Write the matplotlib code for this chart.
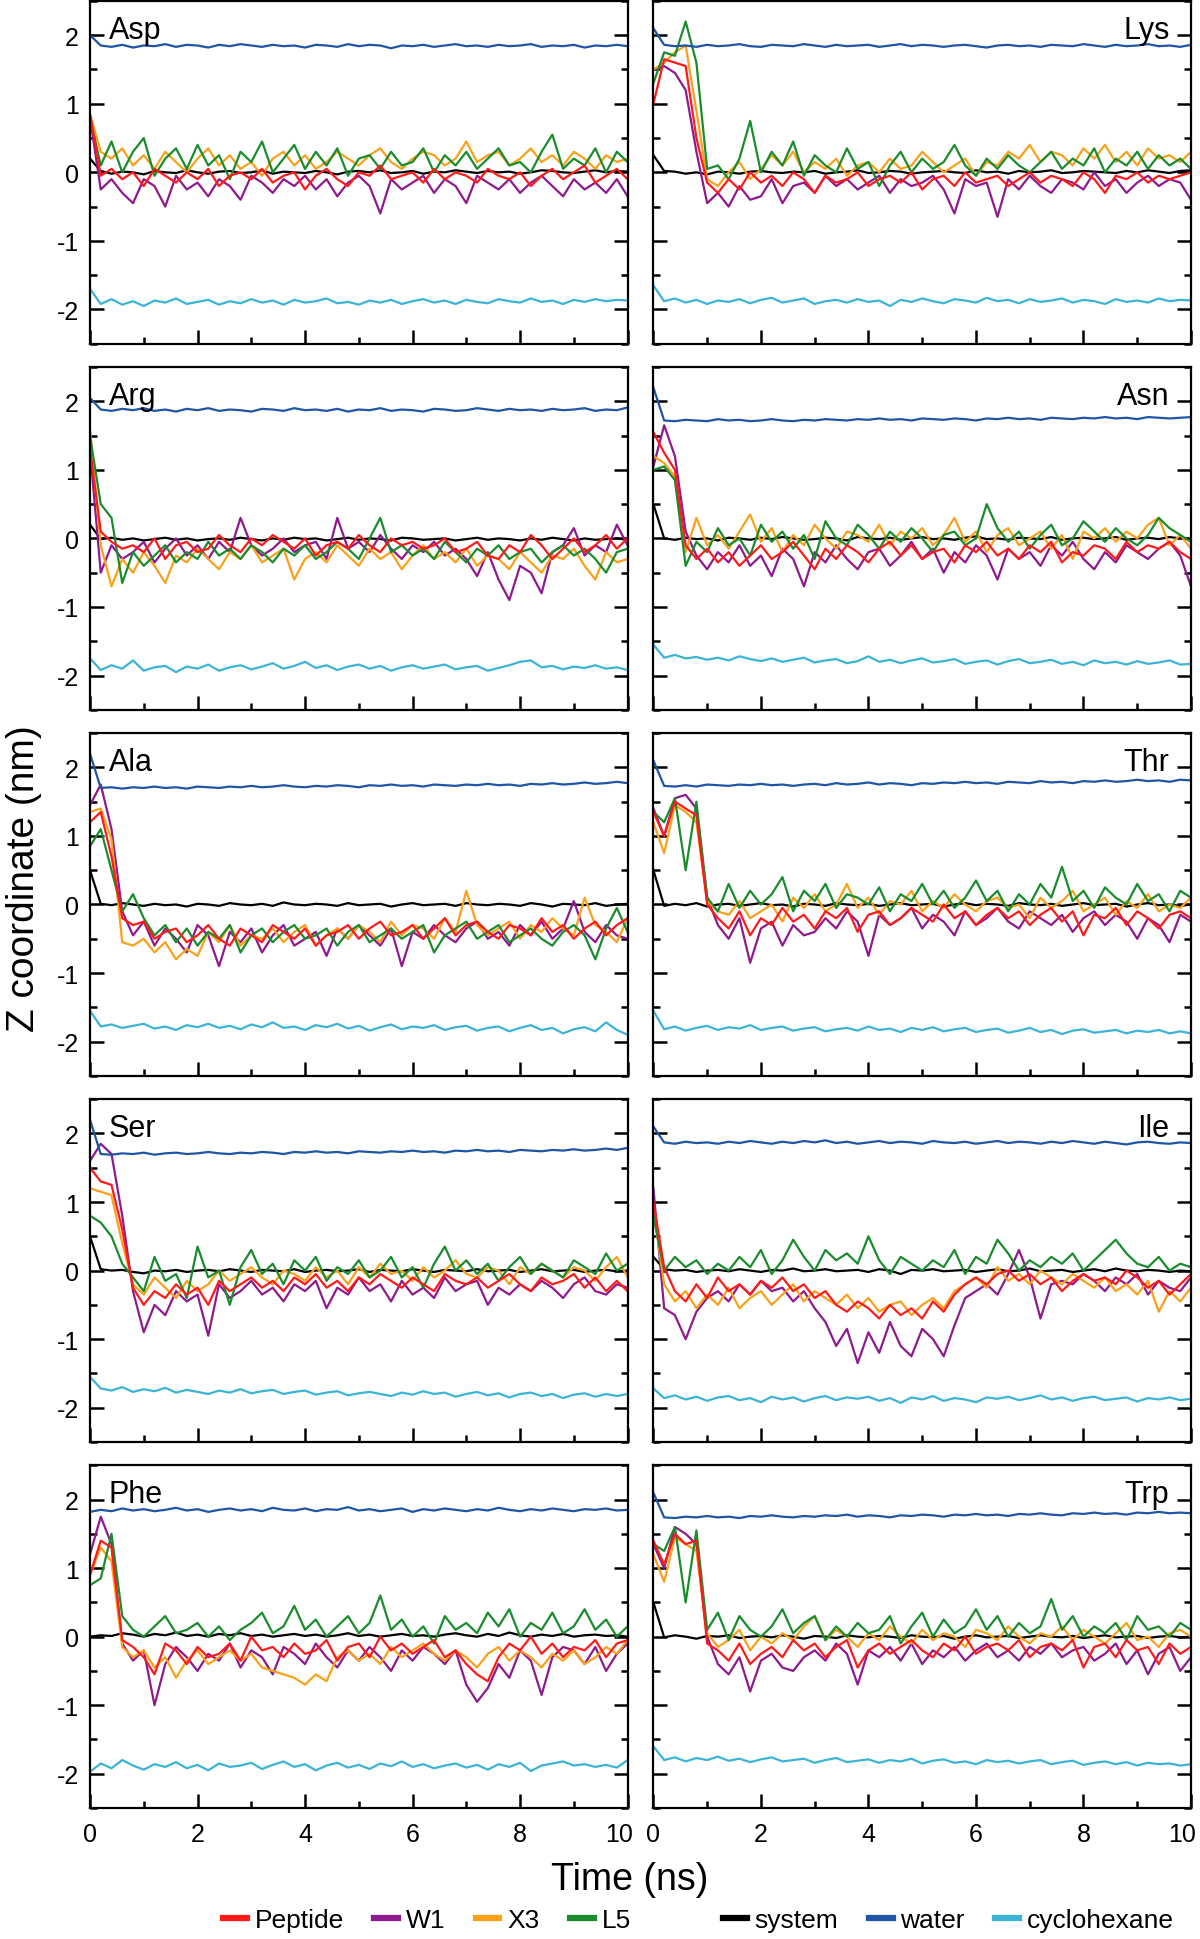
import numpy as np
import matplotlib.pyplot as plt
from matplotlib.lines import Line2D
from matplotlib.ticker import MultipleLocator
from matplotlib.transforms import ScaledTranslation

font = ['Liberation Sans', 'DejaVu Sans']
plt.rcParams['font.family'] = font
plt.rcParams['axes.unicode_minus'] = False

series_names = ['Peptide', 'W1', 'X3', 'L5', 'system', 'water', 'cyclohexane']
colors = ['#ff1a1a', '#8e1a8e', '#f9a11b', '#1a8c2e', '#000000', '#1f55a5', '#3bb4d6']
panel_names = ['Asp', 'Lys', 'Arg', 'Asn', 'Ala', 'Thr', 'Ser', 'Ile', 'Phe', 'Trp']

# every series is sampled evenly over 0-10 ns

# Asp
asp_peptide = [0.85, -0.05, 0.05, -0.1, 0.0, -0.2, 0.05, -0.05, -0.15, 0.0, -0.1, 0.05, -0.2, -0.05, 0.0, -0.1, 0.05, -0.15, -0.05, 0.0, -0.25, -0.05, 0.05, -0.1, -0.2, 0.0, -0.05, 0.1, -0.1, -0.05, 0.0, -0.15, 0.05, -0.1, 0.0, -0.05, -0.15, 0.05, -0.05, -0.1, 0.0, -0.2, -0.05, 0.05, -0.1, 0.0, 0.1, -0.15, -0.05, 0.05, -0.1]
asp_w1 = [0.8, -0.25, -0.1, -0.3, -0.45, -0.1, -0.2, -0.5, -0.05, -0.25, -0.15, -0.35, -0.1, -0.2, -0.4, -0.05, -0.15, -0.3, -0.1, -0.2, -0.05, -0.25, -0.1, -0.35, -0.15, -0.05, -0.2, -0.6, -0.1, -0.25, -0.15, -0.05, -0.3, -0.1, -0.2, -0.45, -0.05, -0.15, -0.25, -0.1, -0.3, -0.15, -0.05, -0.2, -0.35, -0.1, -0.25, -0.15, -0.3, -0.1, -0.35]
asp_x3 = [0.85, 0.3, 0.2, 0.35, 0.1, 0.25, 0.05, 0.3, 0.15, 0.0, 0.2, 0.35, 0.1, 0.25, 0.05, 0.15, -0.05, 0.2, 0.3, 0.1, 0.25, 0.05, 0.15, 0.3, 0.2, 0.1, 0.25, 0.35, 0.15, 0.05, 0.2, 0.3, 0.25, 0.1, 0.2, 0.45, 0.15, 0.25, 0.3, 0.1, 0.2, 0.35, 0.15, 0.25, 0.1, 0.3, 0.2, 0.05, 0.25, 0.15, 0.2]
asp_l5 = [0.8, 0.1, 0.45, 0.0, 0.3, 0.5, -0.05, 0.2, 0.35, 0.05, 0.4, 0.1, 0.25, -0.1, 0.3, 0.15, 0.45, 0.0, 0.2, 0.4, 0.05, 0.3, 0.1, 0.35, -0.05, 0.2, 0.25, 0.05, 0.3, 0.1, 0.15, 0.35, 0.0, 0.25, 0.1, 0.3, 0.05, 0.2, 0.35, 0.1, 0.15, 0.0, 0.3, 0.55, 0.05, 0.2, 0.1, 0.35, 0.0, 0.3, 0.15]
asp_system = [0.2, 0.02, -0.02, 0.01, 0.0, -0.03, 0.02, 0.0, -0.01, 0.03, 0.0, -0.02, 0.01, 0.02, -0.01, 0.0, 0.03, -0.02, 0.01, 0.0, -0.01, 0.02, 0.0, -0.03, 0.01, 0.02, 0.0, 0.03, -0.01, 0.0, 0.02, -0.02, 0.01, 0.0, 0.03, 0.01, -0.01, 0.02, 0.0, 0.01, -0.02, 0.0, 0.03, 0.02, 0.0, -0.01, 0.01, 0.03, 0.0, 0.02, 0.01]
asp_water = [2.0, 1.85, 1.83, 1.86, 1.82, 1.85, 1.84, 1.87, 1.83, 1.86, 1.85, 1.82, 1.86, 1.84, 1.87, 1.85, 1.83, 1.86, 1.84, 1.85, 1.82, 1.86, 1.85, 1.83, 1.87, 1.84, 1.86, 1.85, 1.81, 1.85, 1.84, 1.86, 1.83, 1.85, 1.87, 1.84, 1.85, 1.83, 1.86, 1.84, 1.85, 1.87, 1.83, 1.85, 1.84, 1.86, 1.82, 1.85, 1.84, 1.86, 1.84]
asp_cyclohexane = [-1.7, -1.92, -1.85, -1.93, -1.88, -1.95, -1.87, -1.9, -1.84, -1.92, -1.89, -1.86, -1.93, -1.88, -1.91, -1.85, -1.9, -1.87, -1.93, -1.86, -1.9, -1.88, -1.84, -1.91, -1.89, -1.93, -1.87, -1.9, -1.86, -1.92, -1.88, -1.85, -1.9, -1.87, -1.92, -1.86, -1.89, -1.91, -1.85, -1.88, -1.9, -1.84, -1.89, -1.87, -1.92, -1.86, -1.89, -1.85, -1.88, -1.86, -1.87]

# Lys
lys_peptide = [1.0, 1.65, 1.6, 1.55, 0.5, -0.15, -0.3, -0.1, -0.25, 0.0, -0.15, -0.05, -0.2, 0.0, -0.1, -0.3, -0.05, -0.15, -0.1, 0.0, -0.2, -0.1, -0.05, -0.15, 0.0, -0.25, -0.1, -0.05, -0.2, 0.0, -0.15, -0.1, -0.05, -0.2, -0.1, 0.0, -0.15, -0.05, -0.1, -0.2, 0.0, -0.1, -0.3, -0.05, -0.1, 0.0, -0.15, -0.05, -0.1, -0.05, 0.0]
lys_w1 = [1.5, 1.55, 1.45, 1.2, 0.3, -0.45, -0.3, -0.5, -0.2, -0.4, -0.35, -0.1, -0.45, -0.2, -0.15, -0.3, -0.05, -0.2, -0.1, -0.25, -0.15, -0.05, -0.3, -0.1, -0.2, -0.15, -0.05, -0.25, -0.6, -0.1, -0.2, -0.15, -0.65, -0.1, -0.25, -0.05, -0.2, -0.3, -0.1, -0.15, -0.25, 0.0, -0.2, -0.1, -0.3, -0.15, -0.05, -0.2, -0.1, -0.15, -0.4]
lys_x3 = [1.5, 1.6, 1.75, 1.85, 0.9, -0.1, -0.2, 0.0, 0.15, -0.1, 0.05, 0.25, 0.1, 0.3, 0.0, 0.15, 0.05, 0.2, -0.05, 0.1, 0.15, 0.0, 0.2, 0.05, 0.1, 0.3, 0.15, 0.0, 0.1, 0.2, -0.05, 0.15, 0.1, 0.3, 0.2, 0.4, 0.15, 0.3, 0.25, 0.1, 0.35, 0.2, 0.4, 0.15, 0.3, 0.1, 0.35, 0.2, 0.25, 0.15, 0.3]
lys_l5 = [1.3, 1.75, 1.7, 2.2, 1.6, 0.05, 0.1, -0.1, 0.2, 0.75, 0.0, 0.3, 0.1, 0.45, -0.05, 0.25, 0.1, 0.0, 0.35, 0.05, 0.15, -0.2, 0.1, 0.3, 0.0, 0.2, 0.05, 0.15, 0.4, 0.1, -0.05, 0.2, 0.05, 0.25, 0.1, 0.0, 0.15, 0.3, 0.05, 0.2, 0.1, 0.35, 0.0, 0.2, 0.1, 0.3, 0.05, 0.25, 0.1, 0.2, 0.05]
lys_system = [0.25, 0.02, 0.01, -0.02, 0.0, -0.03, 0.01, 0.0, -0.02, 0.01, 0.02, 0.0, -0.01, 0.01, 0.0, 0.02, -0.02, 0.0, 0.01, 0.03, -0.01, 0.0, 0.02, 0.01, -0.02, 0.0, 0.01, 0.02, 0.0, -0.01, 0.03, 0.0, 0.01, -0.02, 0.02, 0.0, 0.01, 0.03, -0.01, 0.0, 0.02, 0.01, 0.0, -0.01, 0.02, 0.0, 0.03, 0.01, -0.01, 0.02, 0.03]
lys_water = [2.1, 1.86, 1.84, 1.85, 1.83, 1.86, 1.84, 1.85, 1.87, 1.84, 1.83, 1.86, 1.85, 1.84, 1.87, 1.85, 1.83, 1.86, 1.84, 1.85, 1.86, 1.83, 1.85, 1.87, 1.84, 1.86, 1.85, 1.83, 1.85, 1.86, 1.84, 1.82, 1.85, 1.86, 1.84, 1.85, 1.83, 1.86, 1.85, 1.84, 1.87, 1.85, 1.83, 1.86, 1.84, 1.85, 1.87, 1.84, 1.85, 1.83, 1.86]
lys_cyclohexane = [-1.65, -1.88, -1.84, -1.9, -1.86, -1.92, -1.87, -1.89, -1.85, -1.91, -1.86, -1.83, -1.9, -1.87, -1.84, -1.92, -1.88, -1.86, -1.9, -1.85, -1.89, -1.87, -1.95, -1.86, -1.89, -1.84, -1.88, -1.91, -1.85, -1.87, -1.9, -1.83, -1.88, -1.86, -1.91, -1.85, -1.89, -1.87, -1.84, -1.9, -1.86, -1.88, -1.92, -1.85, -1.89, -1.87, -1.9, -1.84, -1.88, -1.86, -1.87]

# Arg
arg_peptide = [1.3, 0.1, -0.05, -0.15, -0.1, -0.2, 0.0, -0.3, -0.1, -0.05, -0.2, -0.15, 0.05, -0.1, -0.2, 0.0, -0.1, 0.05, -0.05, -0.15, 0.0, -0.25, -0.1, -0.05, -0.15, 0.05, -0.1, -0.2, 0.0, -0.1, -0.05, -0.15, -0.1, 0.0, -0.2, -0.15, -0.05, -0.25, -0.3, -0.1, -0.2, 0.05, -0.1, -0.3, -0.15, 0.0, -0.2, -0.1, 0.05, -0.15, 0.0]
arg_w1 = [1.3, -0.5, -0.1, -0.3, -0.2, -0.05, -0.35, -0.15, 0.0, -0.25, -0.1, -0.3, -0.05, -0.2, 0.3, -0.1, -0.25, -0.15, 0.0, -0.2, -0.1, -0.05, -0.3, 0.3, -0.15, -0.05, -0.2, 0.05, -0.15, -0.3, -0.1, -0.2, -0.05, -0.25, -0.15, -0.3, -0.55, -0.2, -0.6, -0.9, -0.4, -0.5, -0.8, -0.2, -0.1, 0.15, -0.25, -0.1, -0.2, 0.2, -0.1]
arg_x3 = [1.6, -0.1, -0.7, -0.3, -0.5, -0.2, -0.4, -0.65, -0.25, -0.35, -0.15, -0.3, -0.45, -0.2, -0.3, -0.1, -0.35, -0.25, -0.15, -0.6, -0.3, -0.2, -0.35, -0.1, -0.25, -0.4, -0.15, -0.3, -0.2, -0.45, -0.25, -0.1, -0.3, -0.2, -0.35, -0.15, -0.4, -0.25, -0.3, -0.45, -0.2, -0.35, -0.5, -0.25, -0.3, -0.15, -0.4, -0.6, -0.2, -0.35, -0.3]
arg_l5 = [1.5, 0.5, 0.3, -0.65, -0.2, -0.4, -0.25, -0.1, -0.35, -0.2, -0.3, -0.05, -0.25, -0.15, -0.3, -0.1, -0.2, -0.35, -0.15, -0.25, -0.1, -0.3, -0.2, -0.05, -0.15, -0.3, 0.0, 0.3, -0.2, -0.1, -0.25, -0.15, -0.3, -0.05, -0.2, -0.35, -0.15, -0.25, -0.1, -0.3, -0.2, -0.15, -0.35, -0.2, -0.1, -0.25, -0.15, -0.3, -0.5, -0.2, -0.15]
arg_system = [0.2, -0.01, 0.01, -0.02, 0.0, -0.03, -0.01, 0.01, -0.02, 0.0, -0.03, -0.01, 0.0, -0.02, 0.01, -0.01, -0.03, 0.0, -0.02, 0.01, -0.01, 0.0, -0.03, -0.01, 0.01, -0.02, 0.0, -0.01, -0.03, 0.01, 0.0, -0.02, -0.01, 0.0, -0.03, -0.01, 0.01, -0.02, 0.0, -0.01, -0.03, 0.0, -0.02, 0.01, -0.01, -0.03, 0.0, -0.02, -0.01, 0.0, -0.02]
arg_water = [2.05, 1.88, 1.86, 1.89, 1.87, 1.9, 1.86, 1.88, 1.85, 1.89, 1.87, 1.9, 1.86, 1.88, 1.87, 1.85, 1.89, 1.88, 1.86, 1.9, 1.87, 1.88, 1.86, 1.89, 1.85, 1.88, 1.87, 1.9, 1.86, 1.88, 1.87, 1.85, 1.89, 1.88, 1.86, 1.87, 1.9, 1.88, 1.86, 1.89, 1.87, 1.88, 1.86, 1.89, 1.87, 1.88, 1.9, 1.86, 1.88, 1.87, 1.91]
arg_cyclohexane = [-1.75, -1.92, -1.85, -1.9, -1.78, -1.93, -1.88, -1.86, -1.95, -1.87, -1.9, -1.84, -1.93, -1.88, -1.85, -1.91, -1.87, -1.82, -1.9, -1.86, -1.8, -1.89, -1.85, -1.92, -1.87, -1.84, -1.9, -1.86, -1.93, -1.88, -1.85, -1.9, -1.87, -1.84, -1.91, -1.88, -1.86, -1.93, -1.89, -1.85, -1.8, -1.78, -1.88, -1.86, -1.91, -1.87, -1.89, -1.85, -1.9, -1.88, -1.92]

# Asn
asn_peptide = [1.55, 1.25, 1.0, -0.1, -0.3, -0.15, -0.35, -0.2, -0.4, -0.25, -0.1, -0.3, -0.2, -0.05, -0.25, -0.45, -0.15, -0.3, -0.1, -0.2, -0.35, -0.15, -0.05, -0.25, -0.1, -0.3, -0.2, -0.15, -0.35, -0.1, -0.2, -0.05, -0.25, -0.15, -0.3, -0.1, -0.2, -0.05, -0.35, -0.2, -0.25, -0.1, -0.15, -0.3, -0.05, -0.2, -0.1, -0.15, -0.05, -0.2, -0.3]
asn_w1 = [1.05, 1.65, 1.2, 0.1, -0.25, -0.45, -0.2, -0.35, -0.1, -0.4, -0.25, -0.55, -0.15, -0.3, -0.7, -0.2, -0.35, -0.1, -0.3, -0.45, -0.2, -0.15, -0.4, -0.25, -0.05, -0.3, -0.15, -0.5, -0.2, -0.35, -0.1, -0.25, -0.6, -0.15, -0.3, -0.2, -0.4, -0.1, -0.25, -0.05, -0.3, -0.45, -0.2, -0.35, -0.1, -0.2, -0.3, -0.15, -0.05, -0.25, -0.7]
asn_x3 = [1.2, 1.1, 0.9, -0.2, 0.3, -0.1, 0.05, -0.15, 0.1, 0.35, -0.05, 0.15, -0.2, 0.05, -0.1, 0.2, 0.0, -0.15, 0.1, 0.05, -0.05, 0.2, -0.1, 0.1, 0.0, 0.15, -0.1, 0.05, 0.3, -0.05, 0.1, -0.2, 0.05, 0.15, -0.1, 0.0, 0.1, -0.15, 0.05, -0.3, 0.1, 0.0, 0.15, -0.05, 0.1, 0.0, 0.2, 0.3, -0.1, 0.05, -0.15]
asn_l5 = [1.0, 1.05, 0.85, -0.4, -0.05, -0.2, 0.15, -0.1, 0.0, -0.25, 0.2, -0.05, 0.1, -0.15, 0.05, -0.3, 0.25, 0.0, -0.1, 0.2, 0.05, -0.15, 0.1, -0.05, 0.15, 0.0, -0.2, 0.05, 0.1, -0.1, 0.0, 0.5, 0.15, -0.05, 0.1, -0.15, 0.05, 0.2, -0.1, 0.0, 0.25, 0.1, -0.05, 0.15, 0.0, -0.1, 0.05, 0.3, 0.15, 0.05, -0.05]
asn_system = [0.5, 0.0, -0.02, 0.01, -0.01, 0.0, -0.03, 0.01, 0.0, -0.02, 0.01, -0.01, 0.02, 0.0, -0.02, -0.01, 0.01, 0.0, -0.03, 0.02, 0.0, -0.01, 0.01, -0.02, 0.0, 0.02, -0.01, 0.0, -0.02, 0.01, 0.03, -0.01, 0.0, -0.02, 0.01, 0.0, -0.01, 0.02, -0.02, 0.0, 0.01, -0.01, 0.0, 0.02, -0.02, 0.0, 0.01, -0.01, 0.02, 0.0, -0.01]
asn_water = [2.2, 1.72, 1.71, 1.73, 1.72, 1.71, 1.74, 1.72, 1.73, 1.71, 1.72, 1.74, 1.72, 1.71, 1.73, 1.72, 1.74, 1.73, 1.72, 1.74, 1.73, 1.75, 1.73, 1.74, 1.72, 1.75, 1.74, 1.73, 1.75, 1.74, 1.72, 1.75, 1.74, 1.76, 1.74, 1.75, 1.73, 1.76, 1.75, 1.74, 1.76, 1.75, 1.77, 1.75, 1.76, 1.74, 1.77, 1.76, 1.75, 1.76, 1.77]
asn_cyclohexane = [-1.55, -1.74, -1.7, -1.75, -1.73, -1.77, -1.74, -1.78, -1.72, -1.76, -1.79, -1.75, -1.8, -1.77, -1.74, -1.81, -1.78, -1.76, -1.82, -1.79, -1.72, -1.8, -1.77, -1.82, -1.78, -1.75, -1.81, -1.79, -1.76, -1.83, -1.8, -1.78, -1.84, -1.79, -1.76, -1.82, -1.8, -1.77, -1.83, -1.8, -1.85, -1.78, -1.82, -1.8, -1.84, -1.79, -1.83, -1.81, -1.78, -1.84, -1.83]

# Ala
ala_peptide = [1.2, 1.35, 0.7, -0.2, -0.3, -0.25, -0.5, -0.4, -0.35, -0.55, -0.45, -0.3, -0.5, -0.6, -0.35, -0.45, -0.55, -0.3, -0.4, -0.5, -0.35, -0.6, -0.45, -0.4, -0.3, -0.5, -0.35, -0.25, -0.45, -0.4, -0.3, -0.5, -0.35, -0.2, -0.45, -0.3, -0.25, -0.4, -0.5, -0.3, -0.35, -0.45, -0.2, -0.4, -0.3, -0.5, -0.35, -0.25, -0.45, -0.3, -0.2]
ala_w1 = [1.45, 1.75, 1.1, -0.1, -0.45, -0.25, -0.6, -0.35, -0.5, -0.7, -0.3, -0.45, -0.9, -0.4, -0.55, -0.35, -0.7, -0.45, -0.3, -0.6, -0.5, -0.4, -0.75, -0.35, -0.5, -0.3, -0.45, -0.6, -0.35, -0.9, -0.4, -0.5, -0.3, -0.45, -0.55, -0.35, -0.25, -0.5, -0.4, -0.6, -0.3, -0.45, -0.25, -0.5, -0.35, 0.05, -0.4, -0.55, -0.3, -0.45, -0.5]
ala_x3 = [1.35, 1.4, 0.95, -0.55, -0.6, -0.5, -0.7, -0.55, -0.8, -0.65, -0.75, -0.4, -0.55, -0.3, -0.6, -0.45, -0.5, -0.35, -0.55, -0.4, -0.3, -0.6, -0.45, -0.35, -0.5, -0.3, -0.4, -0.55, -0.25, -0.45, -0.3, -0.35, -0.5, -0.2, -0.4, 0.2, -0.3, -0.45, -0.35, -0.25, -0.5, -0.3, -0.4, -0.2, -0.35, -0.45, 0.1, -0.3, -0.4, -0.55, -0.2]
ala_l5 = [0.85, 1.1, 0.5, -0.1, 0.15, -0.2, -0.45, -0.3, -0.55, -0.35, -0.6, -0.4, -0.5, -0.3, -0.7, -0.45, -0.35, -0.55, -0.4, -0.3, -0.5, -0.45, -0.35, -0.6, -0.4, -0.3, -0.55, -0.45, -0.35, -0.5, -0.4, -0.3, -0.7, -0.45, -0.35, -0.25, -0.5, -0.4, -0.3, -0.55, -0.45, -0.35, -0.5, -0.6, -0.4, -0.3, -0.45, -0.8, -0.35, -0.05, -0.4]
ala_system = [0.5, 0.01, -0.01, 0.02, 0.0, -0.02, 0.01, -0.01, 0.0, -0.03, 0.01, 0.0, -0.02, 0.02, 0.0, -0.01, 0.01, -0.02, 0.03, 0.0, -0.01, 0.01, 0.0, -0.02, 0.02, -0.01, 0.0, 0.01, -0.03, 0.0, 0.02, -0.01, 0.0, 0.01, -0.02, 0.02, 0.0, -0.01, 0.01, 0.0, -0.02, 0.02, 0.0, -0.03, 0.01, 0.0, -0.01, 0.02, -0.02, 0.0, 0.01]
ala_water = [2.2, 1.7, 1.71, 1.69, 1.71, 1.7, 1.72, 1.7, 1.71, 1.69, 1.72, 1.71, 1.7, 1.72, 1.71, 1.73, 1.71, 1.72, 1.74, 1.72, 1.71, 1.73, 1.72, 1.74, 1.73, 1.71, 1.74, 1.73, 1.75, 1.73, 1.74, 1.72, 1.75, 1.74, 1.73, 1.75, 1.74, 1.76, 1.74, 1.75, 1.73, 1.76, 1.75, 1.77, 1.75, 1.76, 1.78, 1.76, 1.77, 1.79, 1.77]
ala_cyclohexane = [-1.55, -1.78, -1.75, -1.8, -1.77, -1.74, -1.81, -1.78, -1.83, -1.76, -1.79, -1.74, -1.8, -1.77, -1.82, -1.75, -1.79, -1.72, -1.8, -1.78, -1.83, -1.76, -1.79, -1.74, -1.81, -1.77, -1.84, -1.79, -1.75, -1.82, -1.78, -1.8, -1.76, -1.83, -1.79, -1.77, -1.84, -1.8, -1.78, -1.85, -1.8, -1.76, -1.83, -1.8, -1.88, -1.82, -1.79, -1.85, -1.72, -1.83, -1.9]

# Thr
thr_peptide = [1.35, 1.0, 1.5, 1.4, 1.3, 0.0, -0.2, -0.35, -0.1, -0.45, -0.2, -0.3, -0.05, -0.25, -0.15, -0.35, -0.1, -0.2, -0.05, -0.4, -0.15, -0.1, -0.3, -0.2, -0.05, -0.15, -0.25, 0.0, -0.2, -0.1, -0.3, -0.15, -0.05, -0.2, -0.1, -0.3, -0.15, -0.05, -0.25, -0.1, -0.45, -0.15, -0.2, -0.05, -0.3, -0.1, -0.2, -0.35, -0.15, -0.1, -0.2]
thr_w1 = [1.4, 1.0, 1.55, 1.6, 1.4, 0.1, -0.3, -0.5, -0.2, -0.85, -0.35, -0.25, -0.6, -0.3, -0.45, -0.4, -0.2, -0.35, -0.1, -0.25, -0.75, -0.15, -0.3, -0.2, -0.05, -0.35, -0.15, -0.25, -0.45, -0.1, -0.3, -0.2, -0.05, -0.25, -0.35, -0.1, -0.2, -0.3, -0.15, -0.4, -0.2, -0.1, -0.3, -0.15, -0.25, -0.5, -0.2, -0.3, -0.55, -0.15, -0.25]
thr_x3 = [1.2, 0.75, 1.45, 1.35, 1.2, 0.05, -0.1, -0.15, 0.05, -0.2, -0.1, 0.0, -0.25, 0.1, -0.05, 0.15, -0.1, 0.0, 0.3, -0.05, 0.1, -0.15, 0.05, 0.0, 0.2, -0.1, 0.05, -0.05, 0.15, 0.0, -0.1, 0.05, 0.1, -0.05, 0.0, -0.2, 0.1, -0.05, 0.05, 0.2, -0.1, 0.0, 0.1, -0.15, 0.05, -0.05, 0.15, -0.1, 0.0, -0.05, 0.1]
thr_l5 = [1.35, 1.2, 1.55, 0.5, 1.5, 0.1, -0.1, 0.3, -0.05, 0.2, 0.0, 0.15, 0.4, -0.1, 0.2, 0.05, 0.3, -0.05, 0.15, 0.1, 0.0, 0.25, -0.1, 0.15, 0.05, 0.3, 0.0, 0.2, -0.05, 0.1, 0.35, 0.05, 0.2, -0.1, 0.15, 0.0, 0.3, 0.1, 0.55, 0.05, 0.2, -0.05, 0.25, 0.1, 0.0, 0.3, 0.05, 0.15, -0.1, 0.2, 0.1]
thr_system = [0.5, -0.02, 0.01, -0.01, 0.02, -0.03, 0.0, 0.01, -0.02, 0.0, 0.02, -0.01, 0.0, -0.03, 0.01, 0.0, -0.02, 0.02, 0.0, -0.01, 0.01, -0.02, 0.0, 0.02, -0.01, 0.0, 0.01, -0.03, 0.0, 0.02, -0.01, 0.01, 0.0, -0.02, 0.02, 0.0, -0.01, 0.01, -0.02, 0.0, 0.02, -0.01, 0.0, 0.01, -0.03, 0.0, 0.02, -0.01, 0.0, -0.02, 0.0]
thr_water = [2.1, 1.73, 1.72, 1.74, 1.72, 1.75, 1.74, 1.73, 1.75, 1.74, 1.76, 1.74, 1.75, 1.73, 1.75, 1.76, 1.74, 1.77, 1.75, 1.76, 1.78, 1.75, 1.77, 1.76, 1.74, 1.77, 1.76, 1.78, 1.77, 1.79, 1.77, 1.78, 1.76, 1.79, 1.78, 1.77, 1.8, 1.78, 1.79, 1.77, 1.8, 1.79, 1.81, 1.79, 1.8, 1.82, 1.8, 1.81, 1.79, 1.82, 1.81]
thr_cyclohexane = [-1.55, -1.82, -1.78, -1.84, -1.8, -1.77, -1.83, -1.79, -1.81, -1.76, -1.83, -1.8, -1.78, -1.84, -1.81, -1.79, -1.85, -1.82, -1.8, -1.84, -1.78, -1.83, -1.81, -1.86, -1.8, -1.83, -1.79, -1.85, -1.82, -1.8, -1.86, -1.83, -1.81, -1.87, -1.84, -1.8, -1.86, -1.83, -1.89, -1.84, -1.82, -1.87, -1.85, -1.83, -1.88, -1.84, -1.86, -1.83, -1.88, -1.85, -1.88]

# Ser
ser_peptide = [1.5, 1.3, 1.25, 0.6, -0.25, -0.5, -0.3, -0.4, -0.2, -0.35, -0.25, -0.5, -0.15, -0.3, -0.2, -0.1, -0.25, -0.15, -0.3, -0.1, -0.2, -0.05, -0.25, -0.15, -0.3, -0.1, -0.2, -0.05, -0.15, -0.25, -0.1, -0.2, -0.3, -0.05, -0.15, -0.2, -0.1, -0.25, -0.15, -0.05, -0.2, -0.3, -0.1, -0.2, -0.15, -0.05, -0.25, -0.1, -0.3, -0.15, -0.3]
ser_w1 = [1.6, 1.85, 1.7, 0.8, -0.3, -0.9, -0.5, -0.65, -0.3, -0.45, -0.35, -0.95, -0.2, -0.4, -0.3, -0.15, -0.35, -0.25, -0.45, -0.2, -0.3, -0.15, -0.55, -0.25, -0.35, -0.1, -0.3, -0.2, -0.45, -0.15, -0.35, -0.25, -0.4, -0.1, -0.3, -0.2, -0.15, -0.5, -0.25, -0.35, -0.2, -0.3, -0.15, -0.25, -0.4, -0.2, -0.1, -0.3, -0.35, -0.2, -0.25]
ser_x3 = [1.2, 1.15, 1.1, 0.4, -0.2, -0.35, -0.1, -0.25, -0.4, -0.15, -0.3, -0.2, 0.0, -0.15, -0.05, 0.05, -0.1, -0.2, 0.0, -0.05, -0.15, 0.05, -0.1, 0.0, -0.2, 0.05, -0.1, 0.1, -0.05, 0.0, -0.15, 0.05, -0.1, 0.0, 0.15, -0.05, -0.1, 0.05, 0.0, -0.2, 0.05, -0.05, 0.1, 0.0, -0.1, 0.05, 0.0, -0.15, 0.05, 0.2, -0.1]
ser_l5 = [0.8, 0.7, 0.5, 0.1, -0.1, -0.3, 0.2, -0.15, -0.05, -0.4, 0.35, -0.1, 0.0, -0.5, 0.05, 0.3, -0.05, 0.1, -0.2, 0.15, 0.0, 0.2, -0.15, 0.05, -0.05, 0.15, -0.1, 0.0, 0.2, -0.1, 0.05, -0.25, 0.1, 0.35, 0.0, 0.15, -0.05, 0.1, -0.15, 0.05, 0.2, -0.05, 0.1, 0.0, -0.1, 0.15, 0.05, -0.05, 0.25, 0.0, 0.1]
ser_system = [0.5, 0.02, 0.0, 0.01, -0.02, -0.04, 0.0, -0.01, 0.01, -0.02, 0.0, 0.01, -0.01, 0.02, 0.0, -0.02, 0.01, 0.0, -0.01, 0.02, -0.02, 0.0, 0.01, -0.01, 0.0, 0.02, -0.02, 0.01, 0.0, -0.01, 0.02, 0.0, -0.02, 0.01, 0.0, -0.01, 0.02, -0.01, 0.0, 0.01, -0.02, 0.0, 0.02, -0.01, 0.0, 0.01, -0.02, 0.0, 0.01, -0.01, 0.0]
ser_water = [2.2, 1.7, 1.69, 1.71, 1.7, 1.72, 1.69, 1.71, 1.72, 1.7, 1.71, 1.73, 1.71, 1.7, 1.72, 1.71, 1.73, 1.72, 1.7, 1.73, 1.72, 1.74, 1.72, 1.73, 1.71, 1.74, 1.73, 1.72, 1.74, 1.73, 1.75, 1.73, 1.74, 1.72, 1.75, 1.74, 1.76, 1.74, 1.75, 1.73, 1.76, 1.75, 1.74, 1.76, 1.75, 1.77, 1.75, 1.76, 1.78, 1.76, 1.79]
ser_cyclohexane = [-1.55, -1.72, -1.75, -1.7, -1.77, -1.73, -1.76, -1.71, -1.78, -1.74, -1.77, -1.8, -1.75, -1.78, -1.73, -1.79, -1.76, -1.74, -1.8, -1.77, -1.75, -1.81, -1.78, -1.76, -1.82, -1.79, -1.77, -1.8, -1.83, -1.78, -1.81, -1.76, -1.8, -1.78, -1.84, -1.8, -1.77, -1.82, -1.79, -1.85, -1.8, -1.78, -1.83, -1.8, -1.86, -1.81, -1.79, -1.84, -1.8, -1.83, -1.8]

# Ile
ile_peptide = [1.0, 0.05, -0.3, -0.45, -0.2, -0.4, -0.1, -0.3, -0.2, -0.35, -0.15, -0.25, -0.1, -0.3, -0.2, -0.4, -0.3, -0.5, -0.6, -0.45, -0.55, -0.7, -0.5, -0.65, -0.55, -0.7, -0.45, -0.6, -0.35, -0.2, -0.1, -0.2, -0.05, 0.0, -0.15, -0.05, -0.2, -0.1, -0.3, -0.15, -0.05, -0.15, -0.1, -0.2, 0.0, -0.1, -0.25, -0.15, -0.35, -0.2, -0.05]
ile_w1 = [1.2, -0.55, -0.65, -1.0, -0.6, -0.4, -0.3, -0.45, -0.2, -0.35, -0.15, -0.3, -0.25, -0.45, -0.3, -0.55, -0.75, -1.1, -0.85, -1.35, -0.9, -1.2, -0.75, -1.1, -1.25, -0.85, -1.0, -1.25, -0.8, -0.4, -0.3, -0.2, -0.35, -0.05, 0.3, -0.1, -0.7, -0.2, -0.15, -0.2, -0.05, -0.15, -0.3, -0.1, -0.2, -0.05, -0.35, -0.15, -0.25, -0.3, -0.1]
ile_x3 = [0.9, -0.2, -0.45, -0.3, -0.55, -0.35, -0.5, -0.25, -0.55, -0.4, -0.3, -0.5, -0.35, -0.2, -0.45, -0.3, -0.4, -0.5, -0.35, -0.55, -0.4, -0.6, -0.5, -0.45, -0.65, -0.5, -0.4, -0.55, -0.3, -0.2, -0.1, -0.25, 0.05, -0.15, -0.05, -0.2, 0.0, -0.1, -0.2, -0.05, -0.15, -0.25, -0.1, -0.3, -0.2, -0.35, -0.15, -0.6, -0.3, -0.45, -0.25]
ile_l5 = [0.8, 0.0, 0.2, 0.05, 0.15, -0.05, 0.1, 0.0, 0.2, 0.05, 0.3, -0.05, 0.15, 0.45, 0.2, 0.0, 0.3, 0.15, 0.25, 0.1, 0.5, 0.15, -0.05, 0.2, 0.1, 0.0, 0.15, 0.05, 0.3, -0.05, 0.2, 0.1, 0.45, 0.25, 0.0, 0.15, 0.05, 0.2, 0.1, 0.25, 0.0, 0.15, 0.3, 0.45, 0.25, 0.1, 0.05, 0.2, 0.0, 0.1, 0.05]
ile_system = [0.2, 0.02, 0.0, 0.01, -0.02, 0.0, 0.01, -0.01, 0.02, 0.0, -0.02, 0.01, 0.0, 0.03, -0.01, 0.0, 0.02, -0.01, 0.0, 0.01, -0.02, 0.02, 0.0, -0.05, 0.01, 0.0, 0.02, -0.01, 0.0, 0.01, -0.02, 0.0, 0.02, -0.01, 0.0, 0.03, -0.01, 0.0, 0.01, -0.02, 0.0, 0.02, -0.01, 0.03, 0.0, -0.01, 0.01, 0.0, -0.02, 0.0, -0.01]
ile_water = [2.1, 1.87, 1.85, 1.88, 1.86, 1.87, 1.85, 1.88, 1.86, 1.89, 1.87, 1.85, 1.88, 1.86, 1.89, 1.87, 1.9, 1.86, 1.88, 1.85, 1.87, 1.89, 1.86, 1.88, 1.87, 1.85, 1.89, 1.87, 1.86, 1.88, 1.85, 1.87, 1.89, 1.86, 1.88, 1.87, 1.85, 1.88, 1.86, 1.89, 1.87, 1.85, 1.88, 1.86, 1.84, 1.87, 1.88, 1.86, 1.85, 1.87, 1.86]
ile_cyclohexane = [-1.72, -1.86, -1.82, -1.88, -1.84, -1.9, -1.85, -1.83, -1.89, -1.86, -1.92, -1.84, -1.88, -1.85, -1.91, -1.86, -1.83, -1.89, -1.85, -1.87, -1.84, -1.9, -1.86, -1.93, -1.85, -1.88, -1.83, -1.9, -1.86, -1.88, -1.92, -1.85, -1.87, -1.84, -1.89, -1.86, -1.82, -1.88, -1.85, -1.9, -1.86, -1.84, -1.89, -1.87, -1.85, -1.91, -1.86, -1.88, -1.85, -1.89, -1.87]

# Phe
phe_peptide = [0.9, 1.4, 1.3, -0.05, -0.15, -0.3, -0.55, -0.1, -0.2, -0.4, -0.15, -0.3, -0.25, -0.1, -0.35, 0.0, -0.2, -0.15, -0.3, -0.1, -0.25, -0.2, -0.05, -0.35, -0.15, -0.1, -0.3, 0.0, -0.2, -0.1, -0.25, -0.15, -0.05, -0.3, -0.2, -0.4, -0.55, -0.65, -0.3, -0.1, -0.2, 0.0, -0.25, -0.1, -0.3, -0.15, -0.2, -0.05, -0.3, -0.1, -0.05]
phe_w1 = [1.2, 1.75, 1.35, -0.1, -0.35, -0.2, -1.0, -0.4, -0.15, -0.3, -0.5, -0.25, -0.35, -0.1, -0.45, -0.2, -0.3, -0.55, -0.15, -0.25, -0.4, -0.1, -0.3, -0.45, -0.2, -0.35, -0.15, -0.3, -0.5, -0.2, -0.35, -0.15, -0.25, -0.4, -0.2, -0.7, -0.95, -0.75, -0.4, -0.6, -0.2, -0.35, -0.85, -0.3, -0.15, -0.2, -0.4, -0.15, -0.5, -0.25, -0.1]
phe_x3 = [0.9, 1.3, 1.1, -0.15, -0.3, -0.2, -0.45, -0.3, -0.6, -0.35, -0.2, -0.4, -0.3, -0.2, -0.35, -0.25, -0.45, -0.5, -0.55, -0.6, -0.7, -0.55, -0.65, -0.3, -0.2, -0.35, -0.25, -0.4, -0.15, -0.3, -0.2, -0.1, -0.25, -0.35, -0.2, -0.3, -0.45, -0.25, -0.15, -0.35, -0.2, -0.3, -0.45, -0.25, -0.35, -0.2, -0.4, -0.3, -0.15, -0.25, -0.05]
phe_l5 = [0.75, 0.85, 1.5, 0.3, 0.1, 0.0, 0.15, 0.3, 0.05, 0.1, 0.2, 0.0, 0.15, -0.05, 0.1, 0.2, 0.35, 0.05, 0.15, 0.45, 0.1, 0.25, 0.0, 0.15, 0.3, 0.05, 0.2, 0.6, 0.1, 0.25, 0.0, 0.15, -0.1, 0.3, 0.1, 0.2, 0.05, 0.35, 0.15, 0.4, 0.0, 0.2, 0.1, 0.35, 0.05, 0.15, 0.4, 0.1, 0.25, 0.0, 0.15]
phe_system = [0.0, 0.02, 0.01, 0.05, 0.03, 0.0, 0.04, 0.02, 0.06, 0.01, 0.03, 0.0, 0.04, 0.02, 0.05, 0.01, 0.03, 0.0, 0.02, 0.04, 0.01, 0.03, 0.0, 0.02, 0.05, 0.01, 0.03, 0.0, 0.02, 0.04, 0.01, 0.02, 0.0, 0.03, 0.05, 0.02, 0.0, 0.04, 0.01, 0.06, 0.02, 0.0, 0.03, 0.01, 0.04, 0.0, 0.02, 0.03, 0.01, 0.02, 0.0]
phe_water = [1.82, 1.85, 1.83, 1.87, 1.84, 1.86, 1.83, 1.85, 1.88, 1.84, 1.86, 1.82, 1.85, 1.87, 1.84, 1.86, 1.83, 1.88, 1.85, 1.84, 1.87, 1.83, 1.86, 1.85, 1.89, 1.84, 1.86, 1.83, 1.85, 1.87, 1.82, 1.86, 1.84, 1.87, 1.85, 1.83, 1.86, 1.84, 1.88, 1.85, 1.83, 1.86, 1.84, 1.87, 1.85, 1.83, 1.86, 1.85, 1.87, 1.84, 1.85]
phe_cyclohexane = [-1.97, -1.85, -1.92, -1.8, -1.88, -1.94, -1.86, -1.9, -1.83, -1.92, -1.87, -1.95, -1.85, -1.9, -1.88, -1.84, -1.93, -1.87, -1.82, -1.9, -1.86, -1.95, -1.88, -1.84, -1.91, -1.87, -1.93, -1.85, -1.89, -1.82, -1.9, -1.86, -1.92, -1.88, -1.85, -1.91, -1.87, -1.94, -1.86, -1.9, -1.84, -1.96, -1.88, -1.85, -1.82, -1.88, -1.86, -1.9, -1.87, -1.91, -1.8]

# Trp
trp_peptide = [1.4, 1.05, 1.5, 1.35, 1.4, -0.1, -0.2, -0.35, -0.1, -0.4, -0.25, -0.15, -0.3, -0.05, -0.2, -0.1, -0.3, -0.15, -0.05, -0.45, -0.2, -0.1, -0.25, -0.15, -0.05, -0.2, -0.3, -0.1, -0.2, 0.0, -0.25, -0.15, -0.1, -0.2, -0.05, -0.3, -0.15, -0.1, -0.2, -0.05, -0.45, -0.15, -0.1, -0.3, -0.05, -0.2, -0.15, -0.4, -0.1, -0.25, -0.15]
trp_w1 = [1.35, 1.0, 1.6, 1.5, 1.35, 0.0, -0.4, -0.55, -0.3, -0.8, -0.35, -0.25, -0.45, -0.5, -0.3, -0.2, -0.35, -0.1, -0.25, -0.7, -0.2, -0.3, -0.15, -0.35, -0.1, -0.4, -0.2, -0.3, -0.15, -0.35, -0.2, -0.1, -0.3, -0.2, -0.35, -0.15, -0.25, -0.1, -0.3, -0.2, -0.15, -0.35, -0.25, -0.1, -0.4, -0.2, -0.55, -0.25, -0.15, -0.5, -0.3]
trp_x3 = [1.2, 0.8, 1.45, 1.35, 1.25, 0.05, -0.15, -0.05, 0.1, -0.2, 0.0, -0.1, 0.05, -0.05, 0.15, 0.3, -0.05, 0.1, 0.0, -0.15, 0.05, -0.05, 0.15, 0.0, -0.1, 0.1, -0.05, 0.05, 0.0, -0.15, 0.1, 0.05, -0.05, 0.15, 0.0, -0.1, 0.05, 0.0, 0.15, -0.05, 0.1, 0.0, -0.1, 0.05, 0.2, -0.05, 0.0, -0.15, 0.05, 0.1, 0.0]
trp_l5 = [1.35, 1.25, 1.6, 0.5, 1.55, 0.1, 0.35, -0.05, 0.3, 0.1, 0.0, 0.15, 0.4, 0.05, 0.2, 0.3, -0.05, 0.15, 0.0, 0.2, 0.05, 0.1, 0.3, -0.1, 0.15, 0.35, 0.0, 0.25, 0.05, 0.15, 0.4, 0.1, 0.3, 0.0, 0.2, 0.05, 0.15, 0.55, 0.1, 0.3, 0.0, 0.15, 0.05, 0.2, -0.05, 0.3, 0.1, 0.15, 0.0, 0.2, 0.1]
trp_system = [0.5, -0.01, 0.02, 0.0, -0.03, 0.01, 0.0, 0.02, -0.02, 0.0, 0.01, -0.01, 0.02, 0.0, -0.03, 0.01, 0.0, -0.02, 0.02, 0.0, -0.01, 0.01, 0.0, -0.02, 0.02, 0.0, -0.01, 0.01, -0.03, 0.0, 0.02, -0.01, 0.0, 0.01, -0.02, 0.0, 0.02, 0.0, -0.01, 0.01, -0.02, 0.0, 0.02, -0.01, 0.0, 0.01, -0.02, 0.0, 0.01, -0.01, 0.0]
trp_water = [2.1, 1.74, 1.73, 1.75, 1.74, 1.76, 1.74, 1.75, 1.73, 1.76, 1.75, 1.77, 1.75, 1.74, 1.76, 1.75, 1.77, 1.76, 1.78, 1.75, 1.77, 1.76, 1.74, 1.77, 1.76, 1.78, 1.77, 1.75, 1.78, 1.77, 1.79, 1.77, 1.78, 1.76, 1.79, 1.78, 1.8, 1.78, 1.77, 1.8, 1.79, 1.81, 1.79, 1.8, 1.78, 1.81, 1.8, 1.82, 1.8, 1.81, 1.8]
trp_cyclohexane = [-1.6, -1.8, -1.76, -1.82, -1.77, -1.8, -1.75, -1.81, -1.78, -1.83, -1.79, -1.76, -1.82, -1.8, -1.78, -1.84, -1.8, -1.77, -1.83, -1.81, -1.79, -1.84, -1.8, -1.82, -1.78, -1.85, -1.81, -1.79, -1.84, -1.82, -1.86, -1.8, -1.83, -1.81, -1.85, -1.82, -1.8, -1.86, -1.83, -1.81, -1.87, -1.84, -1.82, -1.86, -1.83, -1.88, -1.84, -1.86, -1.85, -1.88, -1.86]

panels = {
    'Asp': [asp_peptide, asp_w1, asp_x3, asp_l5, asp_system, asp_water, asp_cyclohexane],
    'Lys': [lys_peptide, lys_w1, lys_x3, lys_l5, lys_system, lys_water, lys_cyclohexane],
    'Arg': [arg_peptide, arg_w1, arg_x3, arg_l5, arg_system, arg_water, arg_cyclohexane],
    'Asn': [asn_peptide, asn_w1, asn_x3, asn_l5, asn_system, asn_water, asn_cyclohexane],
    'Ala': [ala_peptide, ala_w1, ala_x3, ala_l5, ala_system, ala_water, ala_cyclohexane],
    'Thr': [thr_peptide, thr_w1, thr_x3, thr_l5, thr_system, thr_water, thr_cyclohexane],
    'Ser': [ser_peptide, ser_w1, ser_x3, ser_l5, ser_system, ser_water, ser_cyclohexane],
    'Ile': [ile_peptide, ile_w1, ile_x3, ile_l5, ile_system, ile_water, ile_cyclohexane],
    'Phe': [phe_peptide, phe_w1, phe_x3, phe_l5, phe_system, phe_water, phe_cyclohexane],
    'Trp': [trp_peptide, trp_w1, trp_x3, trp_l5, trp_system, trp_water, trp_cyclohexane],
}

fig, axes = plt.subplots(5, 2, figsize=(12, 19.4), dpi=100, sharex=True, sharey=True)
fig.subplots_adjust(left=0.075, right=0.9925, top=0.999, bottom=0.0675,
                    hspace=0.068, wspace=0.048)

draw_order = [4, 1, 2, 3, 0, 5, 6]
for k, name in enumerate(panel_names):
    ax = axes[k // 2, k % 2]
    data = panels[name]
    for i in draw_order:
        y = data[i]
        t = np.linspace(0, 10, len(y))
        ax.plot(t, y, color=colors[i], lw=1.6)
    ax.set_xlim(0, 10)
    ax.set_ylim(-2.5, 2.5)
    ax.xaxis.set_major_locator(MultipleLocator(2))
    ax.xaxis.set_minor_locator(MultipleLocator(1))
    ax.yaxis.set_major_locator(MultipleLocator(1))
    ax.yaxis.set_minor_locator(MultipleLocator(0.5))
    ax.tick_params(which='both', direction='in', left=True, right=True,
                   bottom=True, top=False, width=1.8, labelsize=18)
    ax.tick_params(which='major', length=10)
    ax.tick_params(which='minor', length=5)
    ax.tick_params(axis='x', pad=10)
    ax.tick_params(axis='y', pad=8)
    for s in ax.spines.values():
        s.set_linewidth(1.6)
    if k % 2 == 0:
        ax.text(0.035, 0.96, name, transform=ax.transAxes, ha='left', va='top',
                fontsize=22)
    else:
        ax.text(0.96, 0.96, name, transform=ax.transAxes, ha='right', va='top',
                fontsize=22)

fig.text(0.02, 0.547, 'Z coordinate (nm)', rotation=90, ha='center', va='center',
         fontsize=28)
fig.text(0.525, 0.031, 'Time (ns)', ha='center', va='center', fontsize=27)

handles = [Line2D([], [], color=c, lw=4.5) for c in colors]
labels = list(series_names)
handles.insert(4, Line2D([], [], color='none'))
labels.insert(4, '')
fig.legend(handles, labels, loc='center', bbox_to_anchor=(0.582, 0.0098), ncol=8,
           frameon=False, fontsize=19, handlelength=0.9, handletextpad=0.3,
           columnspacing=1.15, borderaxespad=0)

# pull the "10" labels a little left so they clear the neighbouring "0"
fig.canvas.draw()
shift = ScaledTranslation(-9 / 100, 0, fig.dpi_scale_trans)
for ax in axes[-1]:
    for lbl in ax.get_xticklabels():
        if lbl.get_text() == '10':
            lbl.set_transform(lbl.get_transform() + shift)

fig.savefig('out.png', dpi=100)
